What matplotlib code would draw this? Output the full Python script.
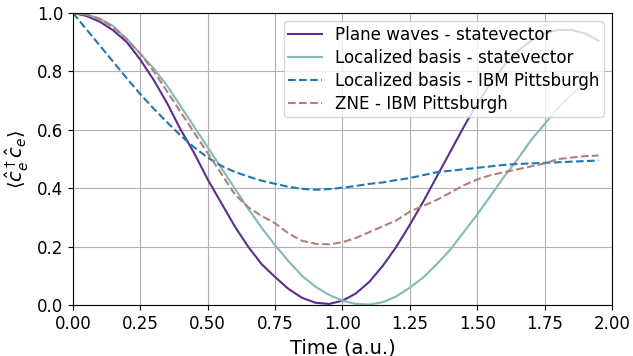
import numpy as np
import matplotlib
matplotlib.use("Agg")
import matplotlib.pyplot as plt

time = np.round(np.arange(0, 1.96, 0.05), 2)

plane_sv = [1.0, 0.99, 0.97, 0.94, 0.90, 0.84, 0.77, 0.69, 0.60, 0.52,
            0.43, 0.35, 0.27, 0.20, 0.14, 0.096, 0.055, 0.025, 0.008, 0.004,
            0.015, 0.04, 0.08, 0.135, 0.20, 0.275, 0.355, 0.44, 0.525, 0.61,
            0.69, 0.76, 0.82, 0.87, 0.905, 0.93, 0.942, 0.942, 0.93, 0.905]

local_sv = [1.0, 0.995, 0.98, 0.955, 0.91, 0.86, 0.81, 0.75, 0.68, 0.61,
            0.54, 0.47, 0.40, 0.33, 0.265, 0.205, 0.15, 0.10, 0.063, 0.035,
            0.015, 0.004, 0.002, 0.01, 0.03, 0.06, 0.095, 0.14, 0.19, 0.25,
            0.31, 0.375, 0.44, 0.50, 0.565, 0.62, 0.675, 0.72, 0.76, 0.79]

local_ibm = [1.0, 0.944, 0.888, 0.832, 0.776, 0.722, 0.672, 0.625, 0.58, 0.54,
             0.505, 0.477, 0.456, 0.44, 0.426, 0.415, 0.405, 0.398, 0.395, 0.397,
             0.402, 0.408, 0.415, 0.42, 0.428, 0.435, 0.445, 0.455, 0.46, 0.465,
             0.47, 0.475, 0.48, 0.483, 0.485, 0.487, 0.489, 0.491, 0.493, 0.495]

zne_ibm = [1.0, 0.995, 0.98, 0.95, 0.91, 0.86, 0.80, 0.73, 0.66, 0.59,
           0.52, 0.45, 0.38, 0.335, 0.305, 0.28, 0.245, 0.22, 0.21, 0.208,
           0.215, 0.23, 0.25, 0.27, 0.29, 0.32, 0.34, 0.36, 0.385, 0.41,
           0.43, 0.445, 0.455, 0.465, 0.475, 0.485, 0.50, 0.505, 0.51, 0.512]

fig, ax = plt.subplots(figsize=(6.33, 3.56), dpi=100)
fig.subplots_adjust(left=0.1153, right=0.9668, bottom=0.143, top=0.9635)

ax.plot(time, plane_sv, color="#5c2d91", lw=1.5, label="Plane waves - statevector")
ax.plot(time, local_sv, color="#85b9b5", lw=1.5, label="Localized basis - statevector")
ax.plot(time, local_ibm, "--", color="#1f77b4", lw=1.5, label="Localized basis - IBM Pittsburgh")
ax.plot(time, zne_ibm, "--", color="#b08078", lw=1.5, label="ZNE - IBM Pittsburgh")

ax.set_xlim(0, 2)
ax.set_ylim(0, 1)
ax.set_xticks(np.arange(0, 2.01, 0.25))
ax.tick_params(labelsize=12)
ax.grid(True)
ax.set_xlabel("Time (a.u.)", fontsize=14)
ax.set_ylabel(r"$\langle \hat{c}_e^\dagger \hat{c}_e \rangle$", fontsize=14)
ax.legend(loc="upper right", fontsize=12.1, handlelength=2, borderpad=0.25,
          labelspacing=0.3, borderaxespad=0.5)

plt.savefig("out.png")
